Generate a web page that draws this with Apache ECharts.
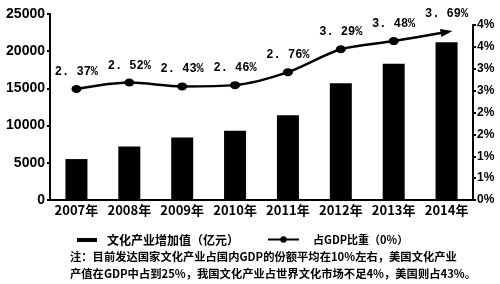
<!DOCTYPE html>
<html>
<head>
<meta charset="utf-8">
<script src="https://cdn.jsdelivr.net/npm/echarts@6/dist/echarts.min.js"></script>
<style>
html,body{margin:0;padding:0;background:#fff;}
#c{width:500px;height:284px;}
</style>
</head>
<body>
<div id="c"></div>
<script>
var categories = ['2007年','2008年','2009年','2010年','2011年','2012年','2013年','2014年'];
var addedValue = [5500, 7200, 8400, 9300, 11400, 15700, 18300, 21200];
var gdpShare = [2.37, 2.52, 2.43, 2.46, 2.76, 3.29, 3.48, 3.69];
var barName = '文化产业增加值（亿元）';
var lineName = '占GDP比重（0%）';
var noteLines = [
  '注：目前发达国家文化产业占国内GDP的份额平均在10%左右，美国文化产业',
  '产值在GDP中占到25%，我国文化产业占世界文化市场不足4%，美国则占43%。'
];

var CJK = '"Noto Sans CJK SC", sans-serif';
var chart = echarts.init(document.getElementById('c'), null, {renderer:'canvas'});

var lineData = gdpShare.map(function(v, i){
  var d = {value: v};
  if (i === gdpShare.length - 1) {
    d.symbol = 'triangle';
    d.symbolSize = [8, 12];
    d.symbolRotate = -80;
  }
  return d;
});

chart.setOption({
  animation: false,
  backgroundColor: '#fff',
  grid: [
    {left: 50, right: 27, top: 14, height: 186, containLabel: false},
    {left: 50, right: 27, top: 25, height: 175, containLabel: false},
    {left: 50, right: 27, top: 18.6, height: 172.8, containLabel: false}
  ],
  xAxis: [
    {type: 'category', gridIndex: 0, data: categories,
      axisLine: {show: true, lineStyle: {color: '#000', width: 2}},
      axisTick: {show: false},
      axisLabel: {interval: 0, hideOverlap: false, color: '#000', fontFamily: CJK, fontWeight: 'bold', fontSize: 13, margin: 4}},
    {type: 'category', gridIndex: 1, data: categories, show: false},
    {type: 'category', gridIndex: 2, data: categories, show: false}
  ],
  yAxis: [
    {type: 'value', gridIndex: 0, min: 0, max: 25000, interval: 5000,
      axisLine: {show: true, lineStyle: {color: '#000', width: 2}},
      axisTick: {show: true, length: 3, lineStyle: {color: '#000', width: 2}},
      splitLine: {show: false},
      axisLabel: {color: '#000', fontFamily: '"Liberation Sans", Arial, sans-serif', fontWeight: 'bold', fontSize: 14, margin: 5,
        formatter: function(v){ return String(v); }}},
    {type: 'value', gridIndex: 1, position: 'right', min: 0, max: 4, interval: 0.5,
      axisLine: {show: true, lineStyle: {color: '#000', width: 2}},
      axisTick: {show: true, length: 3, lineStyle: {color: '#000', width: 2}},
      splitLine: {show: false},
      axisLabel: {color: '#000', fontFamily: '"Liberation Sans", Arial, sans-serif', fontWeight: 'bold', fontSize: 12, margin: 4,
        formatter: function(v){ return Math.round(v) + '%'; }}},
    {type: 'value', gridIndex: 2, min: 0, max: 4, show: false}
  ],
  legend: [
    {left: 72, top: 229, itemWidth: 20, itemHeight: 4, itemGap: 0,
      data: [{name: barName, icon: 'rect'}],
      textStyle: {color: '#000', fontFamily: CJK, fontWeight: 'bold', fontSize: 12, padding: [0,0,0,5]}},
    {left: 262, top: 229, itemWidth: 31, itemHeight: 8, itemGap: 0,
      data: [{name: lineName}],
      textStyle: {color: '#000', fontFamily: CJK, fontWeight: 'bold', fontSize: 11, padding: [0,0,0,9]}}
  ],
  graphic: noteLines.map(function(t, i){
    return {type: 'text', left: 70, top: 251 + i * 17,
      style: {text: t, fill: '#000', font: 'bold 11.3px "Noto Sans CJK SC", sans-serif'}};
  }),
  series: [
    {name: barName, type: 'bar', xAxisIndex: 0, yAxisIndex: 0, data: addedValue,
      barWidth: 22, itemStyle: {color: '#000'}},
    {name: lineName, type: 'line', xAxisIndex: 2, yAxisIndex: 2, data: lineData,
      smooth: 0.3, symbol: 'circle', symbolSize: [10, 8],
      lineStyle: {color: '#000', width: 2.5}, itemStyle: {color: '#000'},
      label: {show: true, position: 'top', distance: 7, color: '#000',
        fontFamily: '"Liberation Mono", monospace', fontWeight: 'bold', fontSize: 12,
        formatter: function(p){ return p.value.toFixed(2).replace('.', '. ') + '%'; }}}
  ]
});
</script>
</body>
</html>
